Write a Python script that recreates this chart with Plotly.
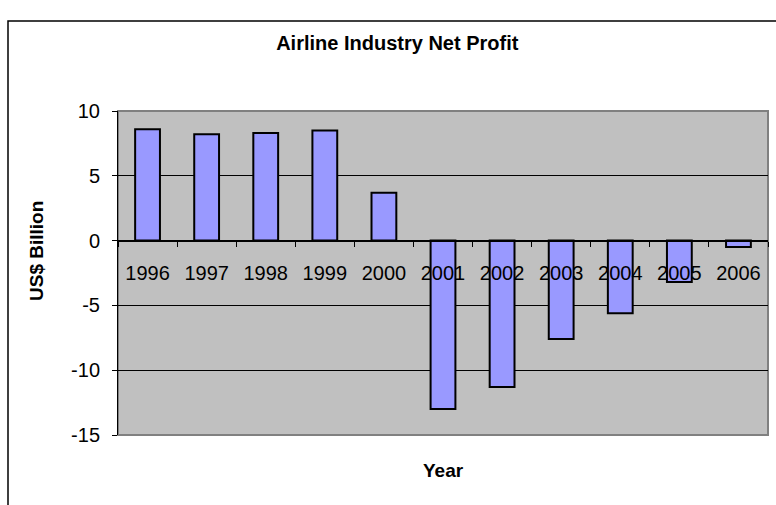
import plotly.graph_objects as go

# Airline industry net profit, US$ billion
years = ["1996", "1997", "1998", "1999", "2000", "2001",
         "2002", "2003", "2004", "2005", "2006"]
net_profit = [8.6, 8.2, 8.3, 8.5, 3.7, -13.0, -11.3, -7.6, -5.6, -3.2, -0.5]
y_ticks = [-15, -10, -5, 0, 5, 10]
y_tick_labels = [str(v) for v in y_ticks]

FONT = "Arial, Liberation Sans, sans-serif"

fig = go.Figure(
    go.Bar(
        x=years,
        y=net_profit,
        marker=dict(color="#9999FF", line=dict(color="#000000", width=2)),
        hoverinfo="x+y",
    )
)

fig.update_layout(
    width=776,
    height=505,
    margin=dict(l=118, r=8, t=111, b=70),
    paper_bgcolor="white",
    plot_bgcolor="#C0C0C0",
    bargap=0.58,
    showlegend=False,
    font=dict(family=FONT, color="#000000"),
    title=dict(
        text="<b>Airline Industry Net Profit</b>",
        font=dict(family=FONT, size=20, color="#000000"),
        xref="container", x=0.512, xanchor="center",
        yref="container", y=1 - 43 / 505, yanchor="middle",
    ),
)

# category axis drawn along the zero line, with ticks between categories
fig.update_xaxes(
    type="category",
    anchor="free",
    position=15 / 25,
    showline=True,
    linecolor="#000000",
    linewidth=1,
    showgrid=False,
    zeroline=False,
    ticks="outside",
    tickson="boundaries",
    ticklen=5,
    tickwidth=1,
    tickcolor="#000000",
    ticklabelstandoff=14,
    tickfont=dict(family=FONT, size=20, color="#000000"),
)

fig.update_yaxes(
    range=[-15, 10],
    tickvals=y_ticks,
    ticktext=y_tick_labels,
    showline=True,
    linecolor="#000000",
    linewidth=1,
    showgrid=True,
    gridcolor="#000000",
    gridwidth=1,
    zeroline=True,
    zerolinecolor="#000000",
    zerolinewidth=1,
    ticks="outside",
    ticklen=5,
    tickwidth=1,
    tickcolor="#000000",
    ticklabelstandoff=8,
    tickfont=dict(family=FONT, size=20, color="#000000"),
)

# plot-area frame
fig.add_shape(
    type="rect", xref="paper", yref="paper",
    x0=0, x1=1, y0=0, y1=1,
    line=dict(color="#808080", width=2),
    fillcolor="rgba(0,0,0,0)",
    layer="between",
)

# chart-area frame (runs past the right and bottom edges of the page)
fig.add_shape(
    type="rect", xref="paper", yref="paper",
    x0=(8 - 118) / 650, x1=1.05,
    y0=-0.3, y1=(435 - 21) / 324,
    line=dict(color="#000000", width=1.5),
    fillcolor="rgba(0,0,0,0)",
    layer="above",
)

fig.add_annotation(
    text="<b>Year</b>", xref="paper", yref="paper",
    x=0.5, y=(435 - 470) / 324, xanchor="center", yanchor="middle",
    showarrow=False, font=dict(family=FONT, size=19, color="#000000"),
)
fig.add_annotation(
    text="<b>US$ Billion</b>", xref="paper", yref="paper",
    x=(36 - 118) / 650, y=(435 - 251) / 324, xanchor="center", yanchor="middle",
    textangle=-90,
    showarrow=False, font=dict(family=FONT, size=19, color="#000000"),
)

fig.write_html("out.html")
